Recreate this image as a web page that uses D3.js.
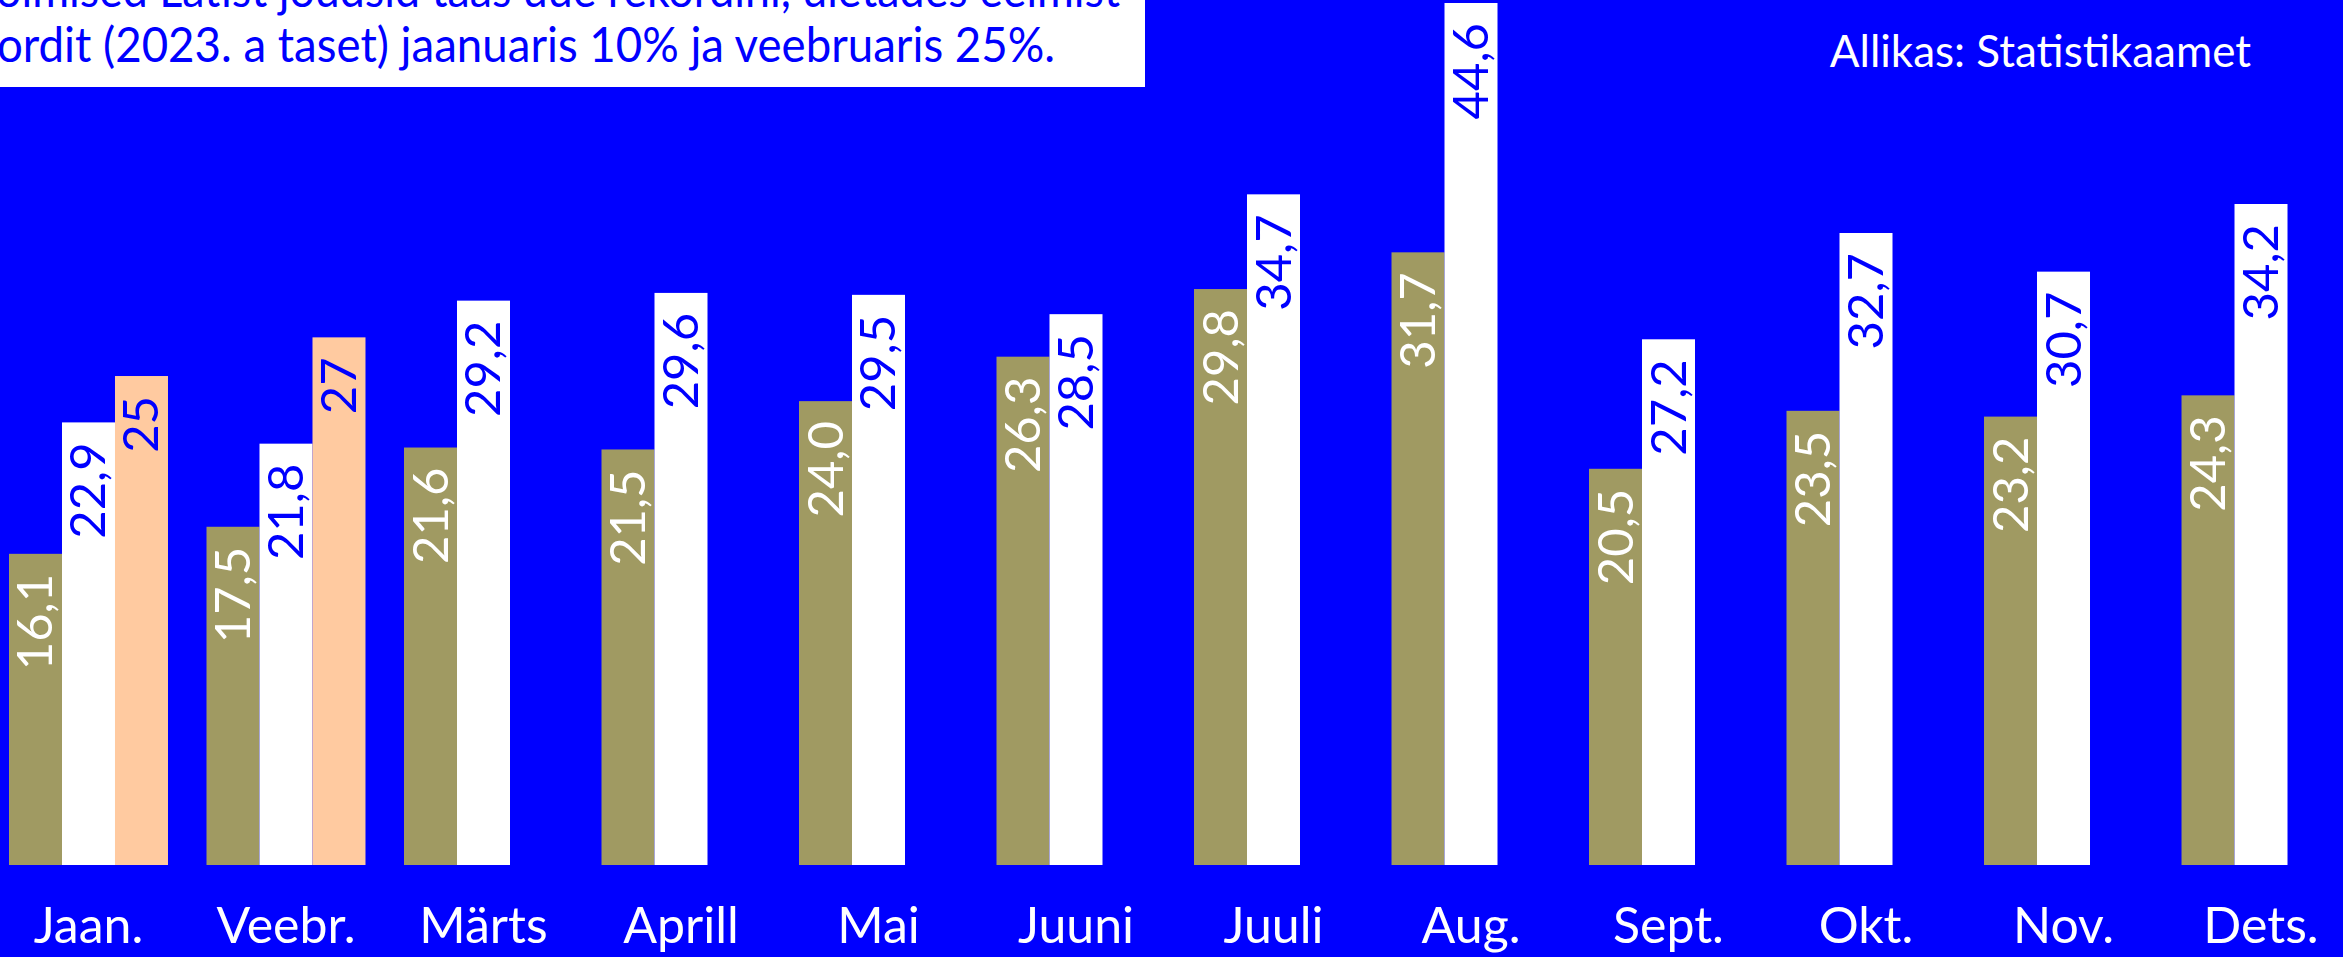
<!DOCTYPE html>
<html>
<head>
<meta charset="utf-8">
<script src="https://cdn.jsdelivr.net/npm/d3@7"></script>
<style>
  html, body { margin: 0; padding: 0; background: #0000ff; overflow: hidden; }
  text { font-family: "Lato", "Noto Sans", sans-serif; font-weight: 400; }
</style>
</head>
<body>
<svg id="chart"></svg>
<script>
// data
var months = ["Jaan.", "Veebr.", "Märts", "Aprill", "Mai", "Juuni", "Juuli", "Aug.", "Sept.", "Okt.", "Nov.", "Dets."];
var seriesKeys = ["y2022", "y2023", "y2024"];
var values2022 = [16.1, 17.5, 21.6, 21.5, 24.0, 26.3, 29.8, 31.7, 20.5, 23.5, 23.2, 24.3];
var values2023 = [22.9, 21.8, 29.2, 29.6, 29.5, 28.5, 34.7, 44.6, 27.2, 32.7, 30.7, 34.2];
var values2024 = [25.3, 27.3];
var titleLines = ["oimised Lätist jõudsid taas uue rekordini, ületades eelmist",
                  "ordit (2023. a taset) jaanuaris 10% ja veebruaris 25%."];
var sourceText = "Allikas: Statistikaamet";

// basic settings
var width = 2343;
var height = 957;
var blue = "#0000ff";
var colors = { y2022: "#a09a62", y2023: "#ffffff", y2024: "#ffcaa0" };
var labelColors = { y2022: "#ffffff", y2023: blue, y2024: blue };

var locale = d3.formatLocale({ decimal: ",", thousands: " ", grouping: [3], currency: ["", "€"] });
var fmt1 = locale.format(".1f");
var fmt0 = locale.format(".0f");

var svg = d3.select("#chart")
    .attr("width", width)
    .attr("height", height);

svg.append("rect")
    .attr("width", width)
    .attr("height", height)
    .attr("fill", blue);

// build rows
var bars = [];
months.forEach(function(m, i) {
    bars.push({ month: m, key: "y2022", value: values2022[i], label: fmt1(values2022[i]) });
    bars.push({ month: m, key: "y2023", value: values2023[i], label: fmt1(values2023[i]) });
    if (values2024[i] != null) {
        bars.push({ month: m, key: "y2024", value: values2024[i], label: fmt0(values2024[i]) });
    }
});

var x = d3.scaleBand()
    .domain(months)
    .range([9, 2340.5])
    .paddingInner(0.195)
    .paddingOuter(0);

var xs = d3.scaleBand()
    .domain(seriesKeys)
    .range([0, x.bandwidth()]);

var y = d3.scaleLinear()
    .domain([0, 44.6])
    .range([865, 3]);

// bars
var g = svg.append("g");

g.selectAll(".bar")
    .data(bars)
    .enter().append("rect")
    .attr("class", "bar")
    .attr("x", function(d) { return x(d.month) + xs(d.key); })
    .attr("y", function(d) { return y(d.value); })
    .attr("width", xs.bandwidth())
    .attr("height", function(d) { return y(0) - y(d.value); })
    .attr("fill", function(d) { return colors[d.key]; });

// value labels, rotated
g.selectAll(".val")
    .data(bars)
    .enter().append("text")
    .attr("class", "val")
    .attr("transform", function(d) {
        var cx = x(d.month) + xs(d.key) + xs.bandwidth() / 2 + 17;
        return "translate(" + cx + "," + (y(d.value) + 20) + ") rotate(-90)";
    })
    .attr("text-anchor", "end")
    .attr("font-size", 49)
    .attr("fill", function(d) { return labelColors[d.key]; })
    .text(function(d) { return d.label; });

// month axis
var xAxis = d3.axisBottom(x).tickSize(0).tickPadding(0);
var axisG = svg.append("g")
    .attr("transform", "translate(0,865)")
    .call(xAxis);
axisG.select(".domain").remove();
axisG.selectAll("text")
    .attr("y", 78)
    .attr("dy", 0)
    .attr("font-size", 50)
    .attr("font-family", "Lato, 'Noto Sans', sans-serif")
    .attr("fill", "#ffffff");

// title box
svg.append("rect")
    .attr("x", 0)
    .attr("y", 0)
    .attr("width", 1145)
    .attr("height", 87)
    .attr("fill", "#ffffff");

var titleWidths = [1124, 1058];
svg.selectAll(".title")
    .data(titleLines)
    .enter().append("text")
    .attr("class", "title")
    .attr("x", function(d, i) { return i == 0 ? -4 : -3; })
    .attr("y", function(d, i) { return 7 + i * 55; })
    .attr("font-size", 48)
    .attr("textLength", function(d, i) { return titleWidths[i]; })
    .attr("lengthAdjust", "spacingAndGlyphs")
    .attr("fill", blue)
    .text(function(d) { return d; });

// source
svg.append("text")
    .attr("x", 2251)
    .attr("y", 67)
    .attr("text-anchor", "end")
    .attr("font-size", 44)
    .attr("fill", "#ffffff")
    .text(sourceText);
</script>
</body>
</html>
